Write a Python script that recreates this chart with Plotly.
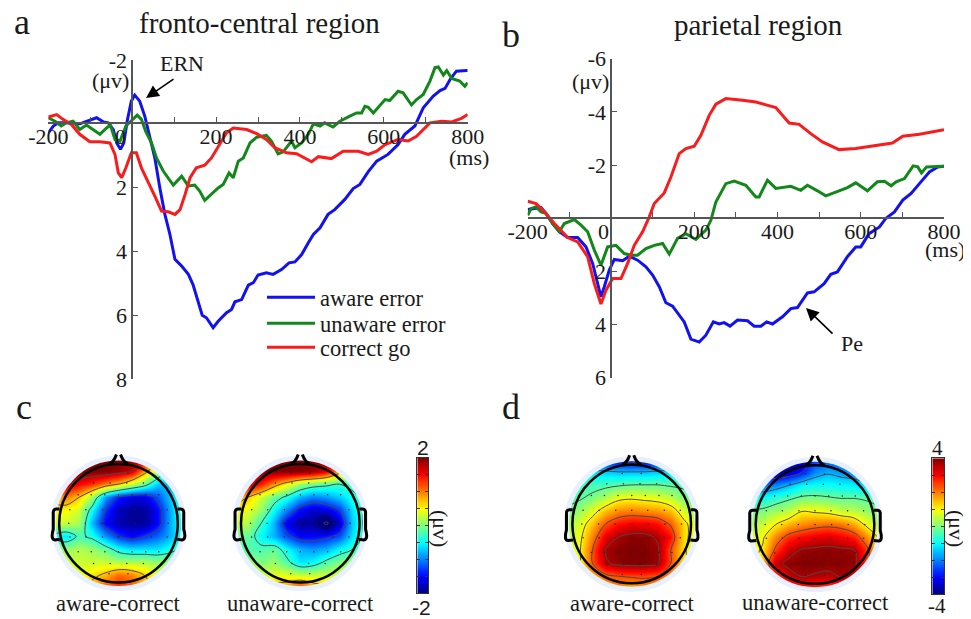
import plotly.graph_objects as go

W, H = 971, 619
PAGE = 8   # the browser page keeps its default 8 px body margin
SERIF = "Liberation Serif"
SANS = "Liberation Sans"

# ---------- panel a: fronto-central ----------
a_aware_t = [-200,-188,-176,-157,-125,-101,-85,-69,-57,-45,-37,-28,-20,-12,-2,6,18,30,42,54,66,78,90,102,118,134,145,157,167,177,193,205,225,237,245,261,277,289,300,320,336,356,374,388,404,420,432,448,467,483,507,527,543,563,583,610,634,650,674,694,718,734,746,758,773,797,800]
a_aware_v = [.28,.07,-.03,-.03,0,-.10,-.19,-.06,-.03,.18,.60,.80,.60,-.08,-.71,-.90,-.71,-.24,.44,1.07,2.01,2.84,3.47,4.25,4.46,4.72,5.04,5.56,6.00,6.08,6.39,6.19,5.92,5.82,5.58,5.51,5.06,4.98,4.74,4.67,4.72,4.57,4.36,4.33,4.10,3.73,3.47,3.26,2.84,2.69,2.37,2.03,1.90,1.50,1.17,.96,.65,.33,.07,-.50,-.87,-1.04,-1.11,-1.39,-1.65,-1.67,-1.67]
a_unaware_t = [-200,-184,-169,-157,-141,-125,-109,-93,-77,-61,-52,-41,-29,-15,-2,12,22,32,46,58,74,98,118,134,149,161,173,189,205,217,231,241,253,265,281,297,320,332,348,360,380,388,404,420,432,448,459,479,495,519,535,547,555,563,575,603,614,634,646,666,678,694,710,722,730,742,750,762,781,793,800]
a_unaware_v = [-.19,-.08,.07,-.03,-.08,.18,.04,.18,.33,.13,.04,.49,.54,.07,-.08,-.27,-.14,.23,.60,1.07,1.48,1.92,1.64,1.95,1.92,2.11,2.40,2.19,2.01,1.90,1.54,1.69,1.17,1.07,.60,.42,.36,.54,.94,.88,.54,.75,.60,.33,0,.07,-.03,.10,-.08,-.24,-.34,-.34,-.55,-.52,-.34,-.76,-.73,-1.02,-.97,-.59,-.76,-.92,-1.34,-1.76,-1.78,-1.53,-1.67,-1.42,-1.34,-1.18,-1.29]
a_correct_t = [-200,-180,-165,-145,-125,-101,-77,-53,-41,-33,-25,-15,-2,10,22,38,54,70,86,102,114,126,138,153,173,189,209,225,241,273,297,320,340,368,392,412,428,444,475,503,539,563,583,603,634,658,678,710,738,762,785,800]
a_correct_v = [-.21,-.29,-.14,.02,.33,.56,.56,.60,.96,1.54,1.69,1.38,.91,.91,1.38,1.80,2.27,2.74,2.76,2.84,2.69,2.22,1.69,1.38,1.30,1.07,.65,.28,.13,.18,.31,.49,.75,.91,.94,1.07,1.19,1.03,1.09,.86,.86,.96,.86,.65,.49,.54,.39,-.03,-.08,-.06,-.17,-.29]

# ---------- panel b: parietal ----------
b_aware_t = [-200,-188,-168,-156,-140,-124,-104,-80,-60,-44,-32,-24,-16,-4,8,28,44,64,84,100,116,132,148,164,176,192,212,228,246,260,272,286,304,328,344,360,374,388,412,432,448,472,488,512,528,544,568,588,600,620,645,660,681,701,721,741,765,785,800]
b_aware_v = [-.33,-.36,-.40,-.18,.20,.51,.73,.73,1.08,1.70,2.46,2.96,2.58,1.95,1.55,1.60,1.43,1.58,1.83,2.14,2.58,3.18,3.31,3.65,3.90,4.55,4.66,4.40,3.90,3.98,3.93,4.06,3.83,3.86,4.06,4.06,3.90,3.98,3.71,3.40,3.36,2.81,2.77,2.46,2.11,2.02,1.45,1.08,1.08,.58,.33,.01,-.24,-.68,-.93,-1.30,-1.74,-1.93,-1.95]
b_unaware_t = [-200,-192,-180,-168,-156,-140,-124,-112,-88,-72,-56,-40,-24,-8,12,32,48,64,84,104,124,140,160,180,204,228,240,252,276,296,324,348,356,376,396,432,456,472,496,516,548,568,588,616,640,657,673,685,705,726,737,746,758,785,800]
b_unaware_v = [-.11,-.36,-.43,-.24,-.18,.20,.51,.20,.05,.26,.51,1.20,1.77,1.08,1.02,1.33,1.39,1.39,1.14,1.02,.95,1.35,.76,.58,.80,.45,.08,-.61,-1.30,-1.40,-1.24,-.80,-.80,-1.43,-1.12,-1.20,-1.05,-1.24,-1.03,-.84,-1.03,-1.15,-1.33,-1.03,-1.37,-1.39,-1.22,-1.37,-1.49,-1.97,-1.93,-1.70,-1.93,-1.93,-1.95]
b_correct_t = [-200,-180,-160,-136,-104,-80,-56,-40,-24,-12,4,24,40,56,76,92,104,128,144,164,180,200,216,236,252,276,316,348,396,412,428,452,480,508,548,588,628,676,701,741,800]
b_correct_v = [-.64,-.55,-.24,.20,.73,.89,1.45,2.46,3.23,2.71,2.27,2.27,1.70,1.02,.51,-.05,-.55,-.95,-1.55,-2.43,-2.62,-2.71,-3.12,-3.87,-4.29,-4.50,-4.44,-4.37,-4.16,-3.87,-3.58,-3.53,-3.18,-2.87,-2.58,-2.62,-2.72,-2.83,-3.08,-3.16,-3.33]

x_ticks = [-200,-100,0,100,200,300,400,500,600,700,800]
x_labels = ["-200","","","","200","","400","","600","","800"]
series_names = ["aware error","unaware error","correct go"]
series_colors = ["#1212f0","#12871a","#f81c1c"]

# ---------- topographic maps (rows top -> bottom, columns left -> right) ----------
grid = [-1.1,-.88,-.66,-.44,-.22,0,.22,.44,.66,.88,1.1]
c_aware = [
 [2,2,2,2,2,2,2,1.7,.8,-.3,-.4],
 [2,2,2,2,2,1.9,1.7,.9,.2,-.6,-.6],
 [1.5,1.7,1.5,1.3,1.0,.7,.3,-.1,-.7,-.8,-.5],
 [.8,1.0,.7,.1,-.9,-1.4,-1.6,-1.6,-1.2,-.7,-.3],
 [.6,.5,.3,-.5,-1.3,-1.75,-1.9,-1.9,-1.5,-.8,-.2],
 [.3,.3,.15,-.8,-1.5,-1.8,-1.9,-1.9,-1.5,-.8,-.3],
 [-.4,-.6,-.2,-.4,-.9,-1.3,-1.5,-1.3,-1.1,-.8,-.4],
 [.1,.1,.2,.1,-.1,-.45,-.6,-.6,-.6,-.4,-.2],
 [.3,.3,.3,.3,.3,.2,.2,.2,.1,0,0],
 [.4,.4,.4,.6,.8,1.1,1.0,.7,.4,.2,.1],
 [.6,.6,.7,.9,1.2,1.4,1.2,.9,.5,.3,.2]]
c_unaware = [
 [2,2,2,2,2,2,2,2,1.5,.6,.2],
 [2,2,2,2,2,2,1.9,1.6,.9,.2,0],
 [1.6,1.7,1.4,.9,.5,.1,-.1,-.2,-.3,-.2,-.1],
 [1.0,.7,.3,-.1,-.4,-.8,-1,-.9,-.7,-.4,-.2],
 [.5,.4,.1,-.5,-1.0,-1.5,-1.7,-1.6,-1.3,-.6,-.2],
 [.3,.2,-.3,-.8,-1.6,-1.9,-1.9,-2.4,-1.7,-.7,-.2],
 [-.1,-.1,-.5,-.8,-1.2,-1.5,-1.5,-1.4,-1.2,-.6,-.2],
 [-.1,-.2,-.2,-.1,-.5,-.8,-.9,-.8,-.5,-.3,-.1],
 [.1,.1,0,.1,-.2,-.6,-.5,-.2,0,.1,.1],
 [.5,.4,.3,.4,.4,.3,.3,.3,.3,.2,.1],
 [.8,.8,.8,.9,1.0,1.4,1.0,.8,.5,.3,.2]]
d_aware = [
 [-3,-3,-3,-3,-3.2,-3.3,-3.3,-3.1,-3,-2.8,-2.6],
 [-1.2,-1.2,-1.3,-1.4,-1.5,-1.5,-1.5,-1.4,-1.3,-1.1,-1],
 [-.6,-.5,-.5,-.4,-.3,-.2,-.2,-.2,-.3,-.3,-.2],
 [-.4,-.3,0,.4,.9,1.0,.9,.8,.5,0,-.2],
 [-.1,.2,.8,1.5,1.9,2,1.9,1.8,1.5,.7,.2],
 [.2,.7,1.5,2.4,2.9,3.1,3.1,2.9,2.3,1.3,.6],
 [.3,.9,2,3.2,3.7,3.9,3.9,3.6,2.9,1.3,.7],
 [.4,1,2.4,3.7,3.95,4,4,3.8,2.4,1.2,.6],
 [.4,1,2.4,3.6,3.9,4,4,3.8,2.4,1.3,.7],
 [.6,1.1,1.6,2.2,2.4,2.5,2.5,2.4,2,1.4,.9],
 [.8,1,1.4,1.7,1.9,1.5,1.9,1.9,1.7,1.3,.9]]
d_unaware = [
 [-3.2,-3.4,-3.6,-3.7,-3.4,-2.6,-2.4,-2.4,-2.2,-2,-1.8],
 [-3,-3.3,-3.6,-3.4,-2.8,-1.9,-1.6,-1.8,-1.9,-1.8,-1.5],
 [-2,-2.1,-1.9,-1.5,-1,-.9,-.9,-1,-1.1,-1.4,-1.4],
 [-.8,-.9,-.6,-.3,-.05,0,-.1,-.2,-.2,-.3,-.4],
 [-.1,0,.3,.5,1.1,1.0,.9,.6,.5,.2,-.1],
 [.3,.6,1.1,1.6,1.9,2.1,2.2,2.1,1.7,.9,.4],
 [.6,1,2,2.7,3,3.2,3.3,3.1,2.8,1.9,.9],
 [.8,1.2,2.6,3.4,3.8,3.85,3.9,3.85,3.75,2.6,1.1],
 [.9,1.5,3.5,3.9,4,4,3.95,3.95,3.9,2.6,1.2],
 [1,1.6,2.5,3.4,3.7,3.6,3.5,3.7,3.4,2.4,1.3],
 [1.2,1.7,2.2,2.4,2.5,2.5,2.4,2.4,2.3,1.9,1.3]]
electrode_x = [-.16,.16,-.42,-.14,.14,.42,-.68,-.46,-.23,0,.23,.46,.68,-.82,-.55,-.27,0,.27,.55,.82,-.84,-.56,-.28,0,.28,.56,.84,-.82,-.55,-.27,0,.27,.55,.82,-.68,-.46,-.23,0,.23,.46,.68,-.42,-.14,.14,.42,-.16,.16]
electrode_y = [.85,.85,.68,.68,.68,.68,.48,.48,.48,.48,.48,.48,.48,.23,.23,.23,.23,.23,.23,.23,0,0,0,0,0,0,0,-.23,-.23,-.23,-.23,-.23,-.23,-.23,-.48,-.48,-.48,-.48,-.48,-.48,-.48,-.68,-.68,-.68,-.68,-.85,-.85]
jet = [[0,"#00007f"],[.125,"#0000ff"],[.375,"#00ffff"],[.5,"#7fff7f"],[.625,"#ffff00"],[.875,"#ff0000"],[1,"#7f0000"]]

FW, FH = W - PAGE, H - PAGE
def px(x): return (x - PAGE) / FW
def py(y): return 1 - (y - PAGE) / FH

fig = go.Figure()
layout = dict(template="none", width=FW, height=FH, margin=dict(l=0, r=0, t=0, b=0, autoexpand=False), paper_bgcolor="white",
              plot_bgcolor="rgba(0,0,0,0)", font=dict(family=SERIF, size=22, color="#1a1a1a"), showlegend=True)
legend_tops = [276, 302, 326]
for n, top in enumerate(legend_tops):
    layout["legend" if n == 0 else f"legend{n+1}"] = dict(x=px(262), y=py(top), xanchor="left", yanchor="top", bgcolor="rgba(0,0,0,0)",
        itemwidth=48, font=dict(family=SERIF, size=22.5, color="#1a1a1a"), itemclick=False, itemdoubleclick=False)

def line_panel(i, series, x0, x1, ytop, ybot, x_axis_px, y0_px, yrange, yticks, ylabels):
    xa, ya = f"xaxis{i}", f"yaxis{i}"
    layout[xa] = dict(domain=[px(x0), px(x1)], range=[-200, 800], anchor="free", position=py(y0_px), side="bottom",
                      tickmode="array", tickvals=x_ticks, ticktext=x_labels, ticks="inside", ticklen=5, ticklabelstandoff=-6,
                      tickcolor="#555", tickwidth=1.2, showgrid=False, zeroline=False, showline=True,
                      linecolor="#555", linewidth=1.5, tickfont=dict(family=SERIF, size=22, color="#1a1a1a"))
    layout[ya] = dict(domain=[py(ybot), py(ytop)], range=yrange, anchor="free", position=px(x_axis_px), side="left",
                      tickmode="array", tickvals=yticks, ticktext=ylabels, ticks="inside", ticklen=5,
                      tickcolor="#555", tickwidth=1.2, showgrid=False, zeroline=False, showline=True,
                      linecolor="#555", linewidth=1.5, tickfont=dict(family=SERIF, size=22, color="#1a1a1a"))
    for n, ((t, v), name, col) in enumerate(zip(series, series_names, series_colors)):
        fig.add_trace(go.Scatter(x=t, y=v, mode="lines", name=name, xaxis=f"x{i}", yaxis=f"y{i}",
                                 legend="legend" if n == 0 else f"legend{n+1}",
                                 line=dict(color=col, width=3), showlegend=(i == 1), hoverinfo="skip"))

line_panel(1, [(a_aware_t,a_aware_v),(a_unaware_t,a_unaware_v),(a_correct_t,a_correct_v)],
           48.3, 467.7, 60, 379, 132.2, 122.7, [8,-2], [-2,0,2,4,6,8], ["-2","","2","4","6","8"])
line_panel(2, [(b_aware_t,b_aware_v),(b_unaware_t,b_unaware_v),(b_correct_t,b_correct_v)],
           527.7, 944, 58.7, 377.7, 611.2, 218, [6,-6], [-6,-4,-2,0,2,4,6], ["-6","-4","-2","","2","4","6"])

shapes, annots = [], []

def text(x, y, s, size=22, family=SERIF, angle=0, color="#1a1a1a"):
    annots.append(dict(x=px(x), y=py(y), xref="paper", yref="paper", text=s, showarrow=False, textangle=angle,
                       xanchor="center", yanchor="middle", font=dict(family=family, size=size, color=color)))

def head(cx, cy, r):
    def P(u, v): return f"{px(cx+u*r):.5f},{py(cy+v*r):.5f}"
    def circ(rr, **kw):
        shapes.append(dict(type="circle", xref="paper", yref="paper", x0=px(cx-rr), x1=px(cx+rr),
                           y0=py(cy+rr), y1=py(cy-rr), layer="above", **kw))
    circ(r*1.13+20, line=dict(color="white", width=40))
    circ(r*1.10, line=dict(color="#e8f0fe", width=5))
    circ(r, line=dict(color="black", width=2.5))
    style = dict(type="path", xref="paper", yref="paper", layer="above", line=dict(color="black", width=3))
    for s in (-1, 1):
        shapes.append(dict(path=f"M{P(s*.16,-1)} Q{P(s*.08,-1.03)} {P(s*.035,-1.16)}", **style))
        shapes.append(dict(path=f"M{P(s*.995,-.24)} L{P(s*1.05,-.24)} Q{P(s*1.11,-.24)} {P(s*1.10,-.15)} "
                               f"L{P(s*1.10,.1)} Q{P(s*1.15,.27)} {P(s*1.07,.28)} L{P(s*.99,.27)}", **style))

def topomap(i, z, cx, cy, r, zmax, levels):
    layout[f"xaxis{i}"] = dict(domain=[px(cx-1.1*r), px(cx+1.1*r)], range=[-1.1,1.1], visible=False, anchor=f"y{i}")
    layout[f"yaxis{i}"] = dict(domain=[py(cy+1.1*r), py(cy-1.1*r)], range=[-1.1,1.1], visible=False, anchor=f"x{i}")
    fig.add_trace(go.Contour(x=grid, y=grid, z=z[::-1], xaxis=f"x{i}", yaxis=f"y{i}", colorscale=jet, zmin=-zmax, zmax=zmax,
                             contours=dict(coloring="heatmap", start=levels[0], end=levels[1], size=levels[2], showlabels=False),
                             line=dict(color="#4a4a4a", width=1, smoothing=1), hoverinfo="skip", showlegend=False, showscale=False))
    fig.add_trace(go.Scatter(x=electrode_x, y=electrode_y, mode="markers", xaxis=f"x{i}", yaxis=f"y{i}",
                             marker=dict(size=1.5, color="#222"), hoverinfo="skip", showlegend=False))
    head(cx, cy, r)

def color_scale(i, zmax, x0, x1, y0, y1):
    steps = [zmax * k / 32 for k in range(-32, 33)]
    layout[f"xaxis{i}"] = dict(domain=[px(x0), px(x1)], range=[0, 1], anchor=f"y{i}", showline=True, mirror=True,
                               linecolor="#333", linewidth=1, ticks="", showticklabels=False, showgrid=False, zeroline=False)
    layout[f"yaxis{i}"] = dict(domain=[py(y1), py(y0)], range=[-zmax, zmax], anchor=f"x{i}", showline=True, mirror="ticks",
                               linecolor="#333", linewidth=1, ticks="inside", ticklen=3, tickcolor="#333", tickwidth=1,
                               tickmode="linear", tick0=-zmax, dtick=zmax/4, showticklabels=False, showgrid=False, zeroline=False)
    fig.add_trace(go.Heatmap(x=[0, 1], y=steps, z=[[v, v] for v in steps], xaxis=f"x{i}", yaxis=f"y{i}", colorscale=jet,
                             zmin=-zmax, zmax=zmax, showscale=False, hoverinfo="skip", zsmooth="best"))

topomap(3, c_aware, 118.5, 523.3, 59.3, 2, (-1.3, 1.7, 1))
topomap(4, c_unaware, 300.3, 523.3, 59.3, 2, (-2.3, .7, 1))
topomap(5, d_aware, 631.7, 524, 59.3, 4, (-2.8, 3.7, 1.3))
topomap(6, d_unaware, 815, 524.5, 59.3, 4, (-2.8, 3.7, 1.3))
color_scale(7, 2, 417.3, 428.3, 457.7, 593.3)
color_scale(8, 4, 932.3, 944, 458.3, 594)

# ---------- text ----------
text(22, 22, "a", 36); text(511, 35, "b", 36); text(24, 407, "c", 36); text(511, 407, "d", 36)
text(260, 23, "fronto-central region", 29); text(758, 25, "parietal region", 29)
text(110, 80, "(μv)"); text(590, 81, "(μv)")
text(120, 136, "0"); text(603, 231, "0")
text(469, 157, "(ms)"); text(945, 249, "(ms)")
text(182, 63, "ERN", 22); text(852, 343, "Pe", 22)
text(118, 603, "aware-correct", 22.5); text(300, 603, "unaware-correct", 22.5)
text(632, 603, "aware-correct", 22.5); text(815, 602, "unaware-correct", 22.5)
text(422.7, 447, "2", 21, SANS); text(421, 607, "-2", 21, SANS)
text(937, 448, "4", 21, SERIF); text(937, 606, "-4", 21, SERIF)
text(441, 528, "(μv)", 22, angle=90); text(957, 528, "(μv)", 22, angle=90)

for (tx, ty), (hx, hy) in [((178, 76), (146, 98)), ((837, 338), (806, 308))]:
    annots.append(dict(x=px(hx), y=py(hy), xref="paper", yref="paper", ax=tx-hx, ay=ty-hy,
                       text=" ", showarrow=True, arrowhead=2, arrowsize=1.6, arrowwidth=1.6, arrowcolor="black"))

fig.update_layout(**layout, shapes=shapes, annotations=annots)
fig.write_html("out.html")
